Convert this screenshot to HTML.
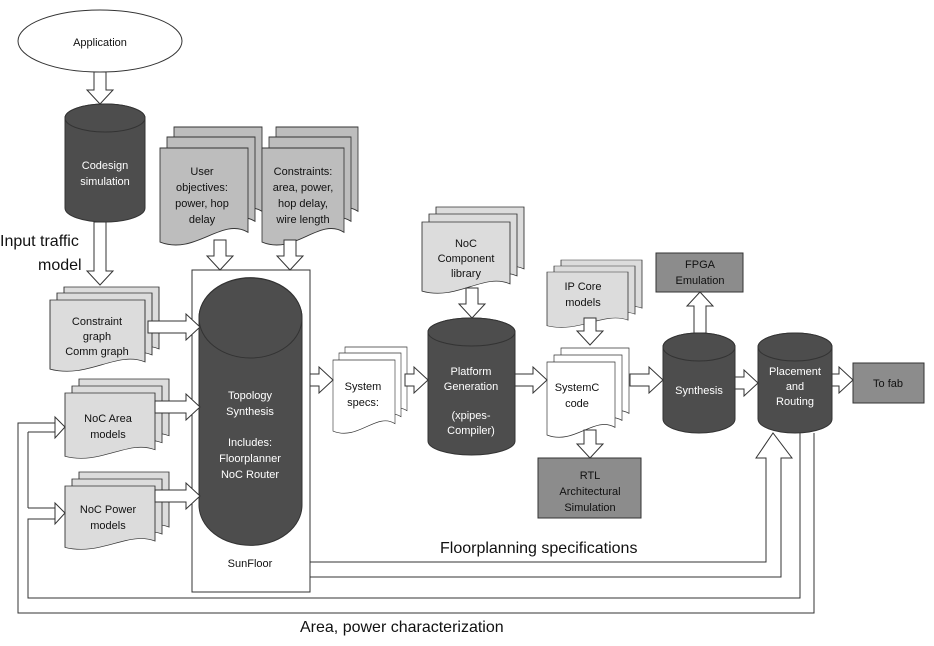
<!DOCTYPE html>
<html><head><meta charset="utf-8"><style>
html,body{margin:0;padding:0;background:#fff;}
svg{display:block;}
text{font-family:"Liberation Sans",sans-serif;}
</style></head><body>
<svg width="934" height="646" viewBox="0 0 934 646" xmlns="http://www.w3.org/2000/svg">
<defs>
<path id="doc" d="M0,0 H100 V86 C70,70 40,110 0,96 Z"/>
</defs>
<g stroke="#333" stroke-width="1">
<!-- Application -->
<ellipse cx="100" cy="41" rx="82" ry="31" fill="#fff"/>
<!-- Codesign cylinder -->
<path d="M65,118 A40,14 0 0 1 145,118 V208 A40,14 0 0 1 65,208 Z" fill="#4d4d4d"/>
<ellipse cx="105" cy="118" rx="40" ry="14" fill="#4d4d4d"/>

<!-- doc stacks -->
<g fill="#dcdcdc">
<use href="#doc" transform="translate(64,287) scale(0.95,0.72)" vector-effect="non-scaling-stroke"/>
<use href="#doc" transform="translate(57,293) scale(0.95,0.72)"/>
<use href="#doc" transform="translate(50,300) scale(0.95,0.72)"/>
<use href="#doc" transform="translate(79,379) scale(0.90,0.66)"/>
<use href="#doc" transform="translate(72,386) scale(0.90,0.66)"/>
<use href="#doc" transform="translate(65,393) scale(0.90,0.66)"/>
<use href="#doc" transform="translate(79,472) scale(0.90,0.64)"/>
<use href="#doc" transform="translate(72,479) scale(0.90,0.64)"/>
<use href="#doc" transform="translate(65,486) scale(0.90,0.64)"/>
<use href="#doc" transform="translate(436,207) scale(0.88,0.72)"/>
<use href="#doc" transform="translate(429,214) scale(0.88,0.72)"/>
<use href="#doc" transform="translate(422,222) scale(0.88,0.72)"/>
<use href="#doc" transform="translate(561,260) scale(0.81,0.56)"/>
<use href="#doc" transform="translate(554,266) scale(0.81,0.56)"/>
<use href="#doc" transform="translate(547,272) scale(0.81,0.56)"/>
</g>
<g fill="#bdbdbd">
<use href="#doc" transform="translate(174,127) scale(0.88,0.98)"/>
<use href="#doc" transform="translate(167,137) scale(0.88,0.98)"/>
<use href="#doc" transform="translate(160,148) scale(0.88,0.98)"/>
<use href="#doc" transform="translate(276,127) scale(0.82,0.98)"/>
<use href="#doc" transform="translate(269,137) scale(0.82,0.98)"/>
<use href="#doc" transform="translate(262,148) scale(0.82,0.98)"/>
</g>
<g fill="#fff">
<use href="#doc" transform="translate(345,347) scale(0.62,0.74)"/>
<use href="#doc" transform="translate(339,353) scale(0.62,0.74)"/>
<use href="#doc" transform="translate(333,360) scale(0.62,0.74)"/>
<use href="#doc" transform="translate(561,348) scale(0.68,0.76)"/>
<use href="#doc" transform="translate(554,355) scale(0.68,0.76)"/>
<use href="#doc" transform="translate(547,362) scale(0.68,0.76)"/>
</g>

<!-- SunFloor box -->
<rect x="192" y="270" width="118" height="322" fill="#fff"/>
<path d="M199,318 A51,40 0 0 1 302,318 V505 A51,40 0 0 1 199,505 Z" fill="#4d4d4d"/>
<ellipse cx="250.5" cy="318" rx="51.5" ry="40" fill="#4d4d4d"/>

<!-- Platform cylinder -->
<path d="M428,332 A43.5,14 0 0 1 515,332 V441 A43.5,14 0 0 1 428,441 Z" fill="#4d4d4d"/>
<ellipse cx="471.5" cy="332" rx="43.5" ry="14" fill="#4d4d4d"/>
<!-- Synthesis -->
<path d="M663,347 A36,14 0 0 1 735,347 V419 A36,14 0 0 1 663,419 Z" fill="#4d4d4d"/>
<ellipse cx="699" cy="347" rx="36" ry="14" fill="#4d4d4d"/>
<!-- P&R -->
<path d="M758,347 A37,14 0 0 1 832,347 V419 A37,14 0 0 1 758,419 Z" fill="#4d4d4d"/>
<ellipse cx="795" cy="347" rx="37" ry="14" fill="#4d4d4d"/>

<!-- boxes -->
<rect x="538" y="458" width="103" height="60" fill="#8c8c8c"/>
<rect x="656" y="253" width="87" height="39" fill="#8c8c8c"/>
<rect x="853" y="363" width="71" height="40" fill="#8c8c8c"/>

<!-- hollow arrows -->
<g fill="#fff">
<polygon points="94,72 106,72 106,90 113,90 100,104 87,90 94,90"/>
<polygon points="94,222 106,222 106,271 113,271 100,285 87,271 94,271"/>
<polygon points="214,240 226,240 226,256 233,256 220,270 207,256 214,256"/>
<polygon points="284,240 296,240 296,256 303,256 290,270 277,256 284,256"/>
<polygon points="466,288 478,288 478,304 485,304 472,318 459,304 466,304"/>
<polygon points="584,318 596,318 596,331 603,331 590,345 577,331 584,331"/>
<polygon points="584,430 596,430 596,444 603,444 590,458 577,444 584,444"/>
<polygon points="694,333 706,333 706,306 713,306 700,292 687,306 694,306"/>
<polygon points="148,321 186,321 186,314 200,327 186,340 186,333 148,333"/>
<polygon points="155,401 186,401 186,394 200,407 186,420 186,413 155,413"/>
<polygon points="155,490 186,490 186,483 200,496 186,509 186,502 155,502"/>
<polygon points="310,374 319,374 319,367 333,380 319,393 319,386 310,386"/>
<polygon points="405,374 414,374 414,367 428,380 414,393 414,386 405,386"/>
<polygon points="515,374 533,374 533,367 547,380 533,393 533,386 515,386"/>
<polygon points="630,374 649,374 649,367 663,380 649,393 649,386 630,386"/>
<polygon points="735,377 744,377 744,370 758,383 744,396 744,389 735,389"/>
<polygon points="832,374 839,374 839,367 853,380 839,393 839,386 832,386"/>
</g>

<!-- floorplanning lines -->
<polyline points="310,562 766,562 766,458 756,458 773,433 792,458 781,458 781,577 310,577" fill="none"/>
<!-- feedback -->
<polyline points="800,433 800,598 28,598 28,519 55,519" fill="none"/>
<polyline points="814,433 814,613 18,613 18,423 55,423" fill="none"/>
<polyline points="28,508 55,508" fill="none"/>
<polyline points="28,432 55,432 " fill="none"/>
<line x1="28" y1="432" x2="28" y2="508"/>
<polygon points="55,417 65,427 55,438" fill="#fff"/>
<polygon points="55,503 65,513 55,524" fill="#fff"/>
</g>

<g font-size="11" fill="#111" text-anchor="middle">
<text x="100" y="46">Application</text>
<text x="105" y="169" fill="#fff">Codesign</text>
<text x="105" y="185" fill="#fff">simulation</text>
<text x="97" y="325">Constraint</text>
<text x="97" y="340">graph</text>
<text x="97" y="355">Comm graph</text>
<text x="108" y="422">NoC Area</text>
<text x="108" y="438">models</text>
<text x="108" y="513">NoC Power</text>
<text x="108" y="529">models</text>
<text x="202" y="175">User</text>
<text x="202" y="191">objectives:</text>
<text x="202" y="207">power, hop</text>
<text x="202" y="223">delay</text>
<text x="303" y="175">Constraints:</text>
<text x="303" y="191">area, power,</text>
<text x="303" y="207">hop delay,</text>
<text x="303" y="223">wire length</text>
<g fill="#fff">
<text x="250" y="399">Topology</text>
<text x="250" y="415">Synthesis</text>
<text x="250" y="446">Includes:</text>
<text x="250" y="462">Floorplanner</text>
<text x="250" y="478">NoC Router</text>
<text x="471" y="375">Platform</text>
<text x="471" y="390">Generation</text>
<text x="471" y="419">(xpipes-</text>
<text x="471" y="434">Compiler)</text>
<text x="699" y="394">Synthesis</text>
<text x="795" y="375">Placement</text>
<text x="795" y="390">and</text>
<text x="795" y="405">Routing</text>
</g>
<text x="250" y="567">SunFloor</text>
<text x="363" y="390">System</text>
<text x="363" y="406">specs:</text>
<text x="466" y="247">NoC</text>
<text x="466" y="262">Component</text>
<text x="466" y="277">library</text>
<text x="583" y="290">IP Core</text>
<text x="583" y="306">models</text>
<text x="577" y="391">SystemC</text>
<text x="577" y="407">code</text>
<text x="590" y="479">RTL</text>
<text x="590" y="495">Architectural</text>
<text x="590" y="511">Simulation</text>
<text x="700" y="268">FPGA</text>
<text x="700" y="284">Emulation</text>
<text x="888" y="387">To fab</text>
</g>
<g font-size="16" fill="#111">
<text x="0" y="246">Input traffic</text>
<text x="38" y="270">model</text>
<text x="440" y="553">Floorplanning specifications</text>
<text x="300" y="632">Area, power characterization</text>
</g>
</svg>
</body></html>
